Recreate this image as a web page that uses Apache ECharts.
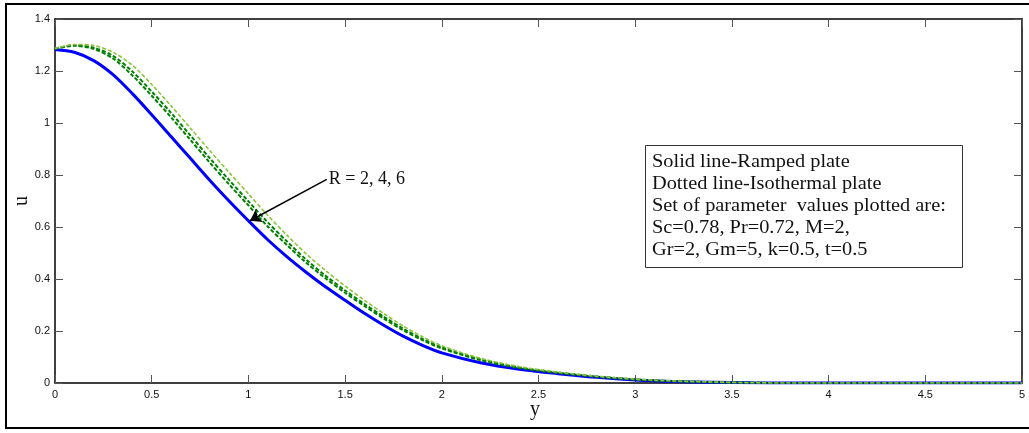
<!DOCTYPE html>
<html>
<head>
<meta charset="utf-8">
<script src="https://cdn.jsdelivr.net/npm/echarts@6/dist/echarts.min.js"></script>
<style>
  html, body { margin: 0; padding: 0; background: #fff; }
  #chart { width: 1029px; height: 433px; }
</style>
</head>
<body>
<div id="chart"></div>
<script>
// Velocity profiles u(y): ramped plate (solid) and isothermal plate (dashed), R = 2, 4, 6
const yVals = [0, 0.1, 0.2, 0.3, 0.4, 0.5, 0.6, 0.7, 0.8, 0.9, 1.0, 1.1, 1.2, 1.3, 1.4, 1.5,
  1.6, 1.7, 1.8, 1.9, 2.0, 2.2, 2.4, 2.6, 2.8, 3.0, 3.2, 3.4, 3.6, 3.8, 4.0, 4.5, 5.0];

const uRamped = [1.283, 1.272, 1.240, 1.186, 1.113, 1.032, 0.948, 0.864, 0.780, 0.700, 0.624,
  0.551, 0.485, 0.425, 0.369, 0.318, 0.268, 0.222, 0.180, 0.145, 0.116, 0.078, 0.053, 0.036,
  0.022, 0.012, 0.006, 0.003, 0.001, 0, 0, 0, 0];

const uIsoR2 = [1.285, 1.297, 1.285, 1.248, 1.183, 1.105, 1.022, 0.935, 0.848, 0.764, 0.683,
  0.602, 0.530, 0.462, 0.402, 0.347, 0.296, 0.248, 0.203, 0.165, 0.133, 0.088, 0.058, 0.039,
  0.024, 0.013, 0.007, 0.003, 0.001, 0, 0, 0, 0];

const uIsoR4 = [1.286, 1.299, 1.290, 1.258, 1.198, 1.121, 1.039, 0.952, 0.865, 0.781, 0.699,
  0.618, 0.544, 0.474, 0.412, 0.356, 0.304, 0.255, 0.209, 0.170, 0.137, 0.091, 0.060, 0.040,
  0.025, 0.014, 0.007, 0.003, 0.001, 0, 0, 0, 0];

const uIsoR6 = [1.287, 1.302, 1.298, 1.272, 1.222, 1.148, 1.066, 0.980, 0.894, 0.810, 0.728,
  0.645, 0.568, 0.496, 0.432, 0.373, 0.318, 0.267, 0.219, 0.178, 0.143, 0.095, 0.063, 0.042,
  0.026, 0.015, 0.008, 0.004, 0.001, 0, 0, 0, 0];

const noteLines = [
  'Solid line-Ramped plate',
  'Dotted line-Isothermal plate',
  'Set of parameter  values plotted are:',
  'Sc=0.78, Pr=0.72, M=2,',
  'Gr=2, Gm=5, k=0.5, t=0.5'
];

// arrow from the "R" label to the curves, in data units
const arrowFrom = [1.405, 0.783];
const arrowTo = [1.008, 0.624];
const arrowText = 'R = 2, 4, 6';

const pairs = vals => yVals.map((y, i) => [y, vals[i]]);

const serif = "'Liberation Serif', 'Times New Roman', serif";
const sans = "'Liberation Sans', Arial, sans-serif";

const tickStyle = { inside: true, length: 8, lineStyle: { color: '#555', width: 1 } };
const lineStyleAxis = { color: '#000', width: 1.5 };

const chart = echarts.init(document.getElementById('chart'), null, { renderer: 'canvas' });

function dashed(name, vals, color, width) {
  return {
    name, type: 'line', data: pairs(vals), showSymbol: false, symbol: 'none',
    smooth: 0.3,
    lineStyle: { color, width, type: [4, 2] }, z: 3
  };
}

const noteGraphic = noteLines.map((t, i) => ({
  type: 'text', left: 652, top: 153 + i * 22, scaleX: 1.1,
  style: { text: t, font: '18.5px ' + serif, fill: '#111' }, z: 20
}));

chart.setOption({
  animation: false,
  backgroundColor: '#fff',
  grid: { left: 55, top: 19, right: 7, bottom: 50, outerBoundsMode: 'none' },
  xAxis: [{
    type: 'value', min: 0, max: 5, interval: 0.5, position: 'bottom',
    axisLine: { onZero: false, lineStyle: lineStyleAxis },
    axisTick: tickStyle, splitLine: { show: false },
    axisLabel: { color: '#111', fontSize: 11, fontFamily: sans, margin: 6 }
  }, {
    type: 'value', min: 0, max: 5, interval: 0.5, position: 'top',
    axisLine: { onZero: false, lineStyle: lineStyleAxis },
    axisTick: tickStyle, splitLine: { show: false }, axisLabel: { show: false }
  }],
  yAxis: [{
    type: 'value', min: 0, max: 1.4, interval: 0.2, position: 'left',
    axisLine: { show: true, onZero: false, lineStyle: lineStyleAxis },
    axisTick: { show: true, ...tickStyle }, splitLine: { show: false },
    axisLabel: { color: '#111', fontSize: 11, fontFamily: sans, margin: 5 }
  }, {
    type: 'value', min: 0, max: 1.4, interval: 0.2, position: 'right',
    axisLine: { show: true, onZero: false, lineStyle: lineStyleAxis },
    axisTick: { show: true, ...tickStyle }, splitLine: { show: false }, axisLabel: { show: false }
  }],
  series: [
    {
      name: 'Ramped plate', type: 'line', data: pairs(uRamped), showSymbol: false, symbol: 'none',
      smooth: 0.3,
      lineStyle: { color: '#0000ff', width: 3 }, z: 2,
      markLine: {
        silent: true, symbol: ['none', 'arrow'], symbolSize: 11,
        lineStyle: { color: '#000', width: 1.5, type: 'solid' },
        label: { show: false },
        data: [[{ coord: arrowFrom }, { coord: arrowTo }]]
      },
      markPoint: {
        silent: true, symbol: 'circle', symbolSize: 0,
        data: [{
          coord: arrowFrom,
          label: {
            show: true, position: 'right', distance: 2, formatter: arrowText,
            fontFamily: serif, fontSize: 18, color: '#111'
          }
        }]
      }
    },
    dashed('Isothermal R=2', uIsoR2, '#008000', 2),
    dashed('Isothermal R=4', uIsoR4, '#008000', 2),
    dashed('Isothermal R=6', uIsoR6, '#8cc43c', 1.6)
  ],
  graphic: [
    // outer frame
    { type: 'rect', shape: { x: 6, y: 4, width: 1040, height: 424 },
      style: { fill: 'none', stroke: '#000', lineWidth: 2 }, z: 1, silent: true },
    // note box
    { type: 'rect', shape: { x: 645.5, y: 145.5, width: 317, height: 122 },
      style: { fill: '#fff', stroke: '#333', lineWidth: 1 }, z: 19, silent: true },
    ...noteGraphic,
    { type: 'text', left: 530, top: 400,
      style: { text: 'y', font: '20px ' + serif, fill: '#111' }, z: 20 },
    { type: 'text', x: 12, y: 206, rotation: Math.PI / 2,
      style: { text: 'u', font: '20px ' + serif, fill: '#111' }, z: 20 }
  ]
});
</script>
</body>
</html>
